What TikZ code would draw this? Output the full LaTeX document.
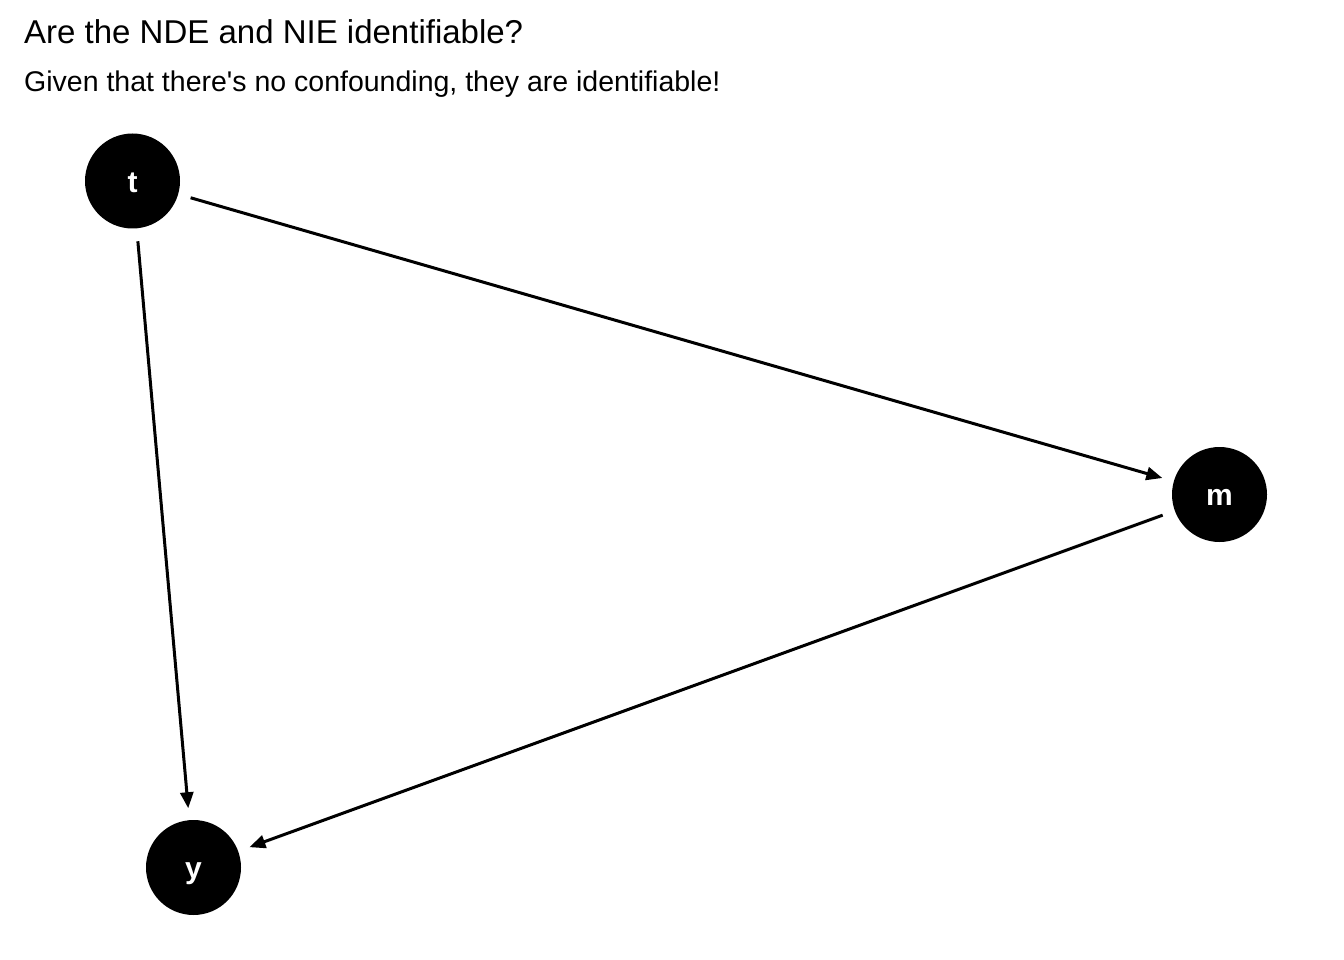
\documentclass[tikz,border=0pt]{standalone}
\usepackage{fontspec}
\setmainfont{Liberation Sans}
\newfontfamily\plainfont{Liberation Sans}[Ligatures=ResetAll]
\usetikzlibrary{arrows.meta}
\begin{document}
\begin{tikzpicture}[x=1pt,y=-1pt,
  dagnode/.style={circle,fill=black,minimum size=95pt,inner sep=0pt,outer sep=0pt,
    text=white,text height=22.5pt,text depth=0pt,font=\fontsize{30}{30}\selectfont\bfseries},
  dagedge/.style={line width=3pt,draw=black,-{Triangle[length=16pt,width=13pt]},
    shorten >=12pt,shorten <=13pt}]
\useasboundingbox[fill=white] (0,0) rectangle (1344,960);
\node[anchor=base west,inner sep=0pt,font=\plainfont\fontsize{33}{33}\selectfont] (title) at (24,43.5) {Are the NDE and NIE identifiable?};
\node[anchor=base west,inner sep=0pt,font=\plainfont\fontsize{28.5}{28.5}\selectfont] (subtitle) at (24,91.5) {Given that there's no confounding, they are identifiable!};
\node[dagnode] (t) at (132.5,181) {t};
\node[dagnode] (m) at (1219.5,494.5) {m};
\node[dagnode] (y) at (193.5,867.5) {y};
\draw[dagedge] (t) -- (m);
\draw[dagedge] (t) -- (y);
\draw[dagedge] (m) -- (y);
\end{tikzpicture}
\end{document}
